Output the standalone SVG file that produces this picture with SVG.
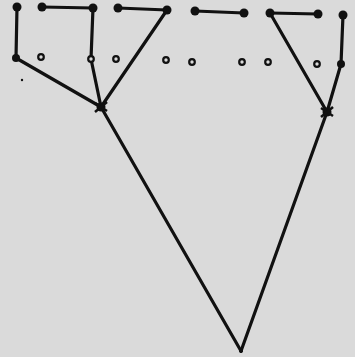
<svg xmlns="http://www.w3.org/2000/svg" width="355" height="357" viewBox="0 0 355 357">
<style>
.e{stroke:#111;stroke-width:3.2;fill:none;stroke-linecap:round}
.f{fill:#111}
.o{fill:#dadada;stroke:#111;stroke-width:2.2}
.h{stroke:#111;stroke-width:2.5}
</style>
<rect width="355" height="357" fill="#dadada"/>
<g id="connectors">
<line class="e" x1="17" y1="7" x2="16" y2="58"/>
<line class="e" x1="42" y1="7" x2="93" y2="8"/>
<line class="e" x1="93" y1="8" x2="91" y2="59"/>
<line class="e" x1="118" y1="8" x2="167" y2="10"/>
<line class="e" x1="195" y1="11" x2="244" y2="13"/>
<line class="e" x1="270" y1="13" x2="318" y2="14"/>
<line class="e" x1="343" y1="15" x2="341" y2="64"/>
<line class="e" x1="16" y1="58" x2="101" y2="107"/>
<line class="e" x1="91" y1="59" x2="101" y2="107"/>
<line class="e" x1="167" y1="10" x2="101" y2="107"/>
<line class="e" x1="270" y1="13" x2="327" y2="112"/>
<line class="e" x1="341" y1="64" x2="327" y2="112"/>
<line class="e" x1="101" y1="107" x2="241" y2="351"/>
<line class="e" x1="327" y1="112" x2="241" y2="351"/>
</g>
<g id="n1"><circle class="f" cx="17" cy="7" r="4.5"/></g>
<g id="n2"><circle class="f" cx="42" cy="7" r="4.5"/></g>
<g id="n3"><circle class="f" cx="93" cy="8" r="4.5"/></g>
<g id="n4"><circle class="f" cx="118" cy="8" r="4.5"/></g>
<g id="n5"><circle class="f" cx="167" cy="10" r="4.5"/></g>
<g id="n6"><circle class="f" cx="195" cy="11" r="4.5"/></g>
<g id="n7"><circle class="f" cx="244" cy="13" r="4.5"/></g>
<g id="n8"><circle class="f" cx="270" cy="13" r="4.5"/></g>
<g id="n9"><circle class="f" cx="318" cy="14" r="4.5"/></g>
<g id="n10"><circle class="f" cx="343" cy="15" r="4.5"/></g>
<g id="n11"><circle class="f" cx="16" cy="58" r="4"/></g>
<g id="n12"><circle class="o" cx="41" cy="57" r="2.8"/></g>
<g id="n13"><circle class="o" cx="91" cy="59" r="2.8"/></g>
<g id="n14"><circle class="o" cx="116" cy="59" r="2.8"/></g>
<g id="n15"><circle class="o" cx="166" cy="60" r="2.8"/></g>
<g id="n16"><circle class="o" cx="192" cy="62" r="2.8"/></g>
<g id="n17"><circle class="o" cx="242" cy="62" r="2.8"/></g>
<g id="n18"><circle class="o" cx="268" cy="62" r="2.8"/></g>
<g id="n19"><circle class="o" cx="317" cy="64" r="2.8"/></g>
<g id="n20"><circle class="f" cx="341" cy="64" r="4"/></g>
<g id="h1"><circle class="f" cx="101" cy="107" r="4.5"/><line class="h" x1="95" y1="103" x2="107" y2="111"/><line class="h" x1="107" y1="102" x2="95" y2="112"/></g>
<g id="h2"><circle class="f" cx="327" cy="112" r="4.5"/><line class="h" x1="321" y1="108" x2="333" y2="116"/><line class="h" x1="333" y1="107" x2="321" y2="117"/></g>
<g id="root"><circle class="f" cx="241" cy="351" r="2"/></g>
<circle class="f" cx="22" cy="80" r="1.2"/>
</svg>
